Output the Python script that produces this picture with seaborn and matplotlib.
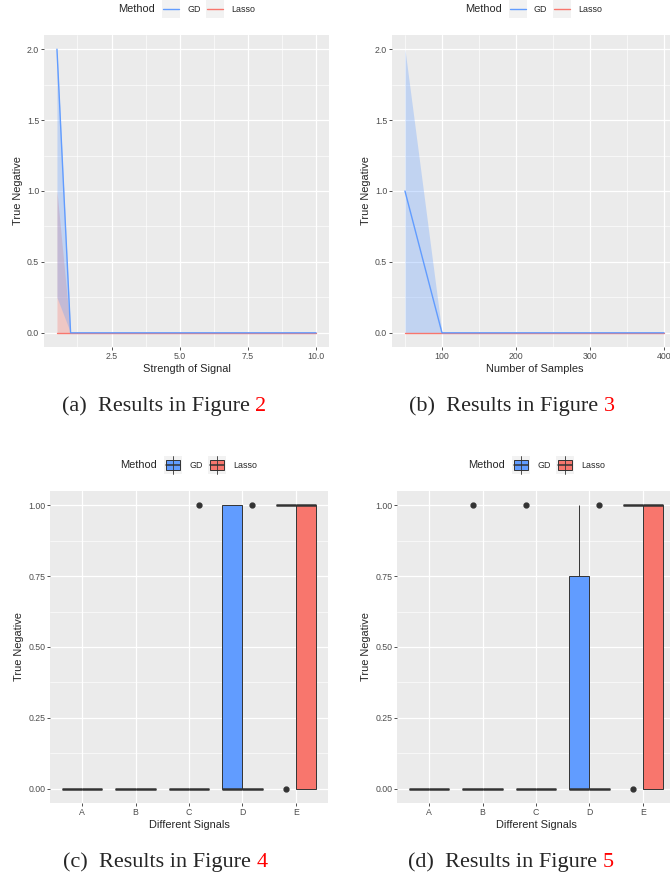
#%%
# Imports
import numpy as np
import pandas as pd
import matplotlib.pyplot as plt
import seaborn as sns
from matplotlib.patches import Rectangle
from matplotlib.lines import Line2D
from matplotlib.ticker import MultipleLocator, NullLocator

#%%
# Data
methods = ["GD", "Lasso"]
colors = {"GD": "#619CFF", "Lasso": "#F8766D"}

# (a) true negative vs strength of signal
signal_strength = [0.5, 1, 2, 3, 4, 5, 6, 7, 8, 9, 10]
gd_signal = [2, 0, 0, 0, 0, 0, 0, 0, 0, 0, 0]
gd_signal_low = [0.25, 0, 0, 0, 0, 0, 0, 0, 0, 0, 0]
gd_signal_high = [2, 0, 0, 0, 0, 0, 0, 0, 0, 0, 0]
lasso_signal = [0, 0, 0, 0, 0, 0, 0, 0, 0, 0, 0]
lasso_signal_low = [0, 0, 0, 0, 0, 0, 0, 0, 0, 0, 0]
lasso_signal_high = [1, 0, 0, 0, 0, 0, 0, 0, 0, 0, 0]

# (b) true negative vs number of samples
n_samples = [50, 100, 150, 200, 250, 300, 350, 400]
gd_samples = [1, 0, 0, 0, 0, 0, 0, 0]
gd_samples_low = [0, 0, 0, 0, 0, 0, 0, 0]
gd_samples_high = [2, 0, 0, 0, 0, 0, 0, 0]
lasso_samples = [0, 0, 0, 0, 0, 0, 0, 0]

# (c), (d) true negative per signal type (10 runs each)
signals = ["A", "B", "C", "D", "E"]
fig4_gd = [
    [0, 0, 0, 0, 0, 0, 0, 0, 0, 0],
    [0, 0, 0, 0, 0, 0, 0, 0, 0, 0],
    [0, 0, 0, 0, 0, 0, 0, 0, 0, 0],
    [0, 0, 0, 0, 0, 0, 1, 1, 1, 1],
    [0, 1, 1, 1, 1, 1, 1, 1, 1, 1],
]
fig4_lasso = [
    [0, 0, 0, 0, 0, 0, 0, 0, 0, 0],
    [0, 0, 0, 0, 0, 0, 0, 0, 0, 0],
    [1, 0, 0, 0, 0, 0, 0, 0, 0, 0],
    [1, 0, 0, 0, 0, 0, 0, 0, 0, 0],
    [0, 0, 0, 0, 1, 1, 1, 1, 1, 1],
]
fig5_gd = [
    [0, 0, 0, 0, 0, 0, 0, 0, 0, 0],
    [1, 0, 0, 0, 0, 0, 0, 0, 0, 0],
    [1, 0, 0, 0, 0, 0, 0, 0, 0, 0],
    [0, 0, 0, 0, 0, 0, 0, 1, 1, 1],
    [0, 1, 1, 1, 1, 1, 1, 1, 1, 1],
]
fig5_lasso = [
    [0, 0, 0, 0, 0, 0, 0, 0, 0, 0],
    [0, 0, 0, 0, 0, 0, 0, 0, 0, 0],
    [0, 0, 0, 0, 0, 0, 0, 0, 0, 0],
    [1, 0, 0, 0, 0, 0, 0, 0, 0, 0],
    [0, 0, 0, 0, 1, 1, 1, 1, 1, 1],
]

#%%
# Style
sns.set_theme(style="darkgrid", rc={
    "axes.facecolor": "#EBEBEB",
    "grid.color": "white",
    "axes.edgecolor": "none",
    "figure.facecolor": "white",
})
plt.rcParams["font.family"] = ["Liberation Sans", "DejaVu Sans"]

W, H = 670, 877
fig = plt.figure(figsize=(W / 100, H / 100), dpi=100)


def px_axes(left, top, right, bottom):
    return fig.add_axes([left / W, 1 - bottom / H, (right - left) / W, (bottom - top) / H])


def style_axes(ax):
    ax.set_axisbelow(True)
    ax.grid(which="major", color="white", linewidth=0.9)
    ax.grid(which="minor", color="white", linewidth=0.45)
    ax.tick_params(which="major", length=2, width=0.6, color="#333333",
                   labelcolor="#4D4D4D", labelsize=6.3, pad=1.5,
                   bottom=True, left=True)
    ax.tick_params(which="minor", length=0)
    for s in ax.spines.values():
        s.set_visible(False)


def legend(x0, yc, kind):
    fig.text(x0 / W, 1 - yc / H, "Method", fontsize=7.9, va="center", ha="left")
    for i, m in enumerate(methods):
        kx = x0 + 44 + i * 44
        fig.add_artist(Rectangle((kx / W, 1 - (yc + 9) / H), 18 / W, 18 / H,
                                 transform=fig.transFigure, facecolor="#F2F2F2",
                                 edgecolor="none"))
        if kind == "line":
            fig.add_artist(Line2D([(kx + 1) / W, (kx + 17) / W], [1 - yc / H] * 2,
                                  transform=fig.transFigure, color=colors[m], lw=1.0))
        else:
            fig.add_artist(Line2D([(kx + 9) / W] * 2, [1 - (yc - 8.5) / H, 1 - (yc + 8.5) / H],
                                  transform=fig.transFigure, color="#333333", lw=0.6))
            fig.add_artist(Rectangle(((kx + 2) / W, 1 - (yc + 5) / H), 14 / W, 10 / H,
                                     transform=fig.transFigure, facecolor=colors[m],
                                     edgecolor="#333333", lw=0.7))
            fig.add_artist(Line2D([(kx + 2) / W, (kx + 16) / W], [1 - yc / H] * 2,
                                  transform=fig.transFigure, color="#333333", lw=1.1))
        fig.text((kx + 25) / W, 1 - yc / H, m, fontsize=6.4, va="center", ha="left")


def caption(x0, baseline, label, num):
    t = fig.text(x0 / W, 1 - baseline / H, label, fontsize=16, va="baseline",
                 ha="left", family=["Liberation Serif", "DejaVu Serif"])
    fig.axes[0].annotate(num, xy=(1, 0), xycoords=t, va="bottom", ha="left",
                         fontsize=16, color="red",
                         family=["Liberation Serif", "DejaVu Serif"],
                         annotation_clip=False)


#%%
# (a) Strength of signal
ax = px_axes(44, 35, 329, 347)
ax.fill_between(signal_strength, lasso_signal_low, lasso_signal_high,
                color=colors["Lasso"], alpha=0.3, linewidth=0)
ax.fill_between(signal_strength, gd_signal_low, gd_signal_high,
                color=colors["GD"], alpha=0.3, linewidth=0)
sns.lineplot(x=signal_strength, y=lasso_signal, color=colors["Lasso"], lw=1.0, ax=ax)
sns.lineplot(x=signal_strength, y=gd_signal, color=colors["GD"], lw=1.0, ax=ax)
ax.set_xlim(0.025, 10.475)
ax.set_ylim(-0.1, 2.1)
ax.xaxis.set_major_locator(MultipleLocator(2.5))
ax.xaxis.set_minor_locator(MultipleLocator(1.25))
ax.yaxis.set_major_locator(MultipleLocator(0.5))
ax.yaxis.set_minor_locator(MultipleLocator(0.25))
ax.xaxis.set_major_formatter(plt.FormatStrFormatter("%.1f"))
ax.yaxis.set_major_formatter(plt.FormatStrFormatter("%.1f"))
style_axes(ax)
ax.set_xlabel("Strength of Signal", fontsize=7.9, labelpad=2)
ax.set_ylabel("True Negative", fontsize=7.9, labelpad=3)
legend(118, 9, "line")

#%%
# (b) Number of samples
ax = px_axes(392, 35, 677, 347)
ax.fill_between(n_samples, gd_samples_low, gd_samples_high,
                color=colors["GD"], alpha=0.3, linewidth=0)
sns.lineplot(x=n_samples, y=lasso_samples, color=colors["Lasso"], lw=1.0, ax=ax)
sns.lineplot(x=n_samples, y=gd_samples, color=colors["GD"], lw=1.0, ax=ax)
ax.set_xlim(32.5, 417.5)
ax.set_ylim(-0.1, 2.1)
ax.xaxis.set_major_locator(MultipleLocator(100))
ax.xaxis.set_minor_locator(MultipleLocator(50))
ax.yaxis.set_major_locator(MultipleLocator(0.5))
ax.yaxis.set_minor_locator(MultipleLocator(0.25))
ax.yaxis.set_major_formatter(plt.FormatStrFormatter("%.1f"))
style_axes(ax)
ax.set_xlabel("Number of Samples", fontsize=7.9, labelpad=2)
ax.set_ylabel("True Negative", fontsize=7.9, labelpad=3)
legend(465, 9, "line")


#%%
# (c), (d) Box plots
def long_table(gd, lasso):
    rows = []
    for sig, g, l in zip(signals, gd, lasso):
        rows += [(sig, "GD", v) for v in g]
        rows += [(sig, "Lasso", v) for v in l]
    return pd.DataFrame(rows, columns=["Signal", "Method", "TN"])


def box_panel(df, box, leg_x):
    ax = px_axes(*box)
    sns.boxplot(data=df, x="Signal", y="TN", hue="Method", order=signals,
                hue_order=methods, palette=colors, saturation=1,
                width=0.75, gap=0,
                linecolor="#333333", linewidth=0.7, showcaps=False,
                medianprops=dict(color="#333333", linewidth=1.8),
                flierprops=dict(marker="o", markersize=3.5,
                                markerfacecolor="#333333",
                                markeredgecolor="#333333"),
                legend=False, ax=ax)
    ax.set_xlim(-0.6, 4.6)
    ax.set_ylim(-0.05, 1.05)
    ax.yaxis.set_major_locator(MultipleLocator(0.25))
    ax.yaxis.set_minor_locator(MultipleLocator(0.125))
    ax.xaxis.set_minor_locator(NullLocator())
    ax.yaxis.set_major_formatter(plt.FormatStrFormatter("%.2f"))
    style_axes(ax)
    ax.xaxis.grid(True, which="major", color="white", linewidth=0.9)
    ax.set_xlabel("Different Signals", fontsize=7.9, labelpad=2)
    ax.set_ylabel("True Negative", fontsize=7.9, labelpad=3)
    legend(leg_x, 465, "box")
    return ax


box_panel(long_table(fig4_gd, fig4_lasso), (50, 491, 328, 803), 120)
box_panel(long_table(fig5_gd, fig5_lasso), (397, 491, 675, 803), 468)

#%%
# Captions
caption(62, 411, "(a)  Results in Figure ", "2")
caption(409, 411, "(b)  Results in Figure ", "3")
caption(63, 867, "(c)  Results in Figure ", "4")
caption(408, 867, "(d)  Results in Figure ", "5")

fig.savefig("out.png", dpi=100)
